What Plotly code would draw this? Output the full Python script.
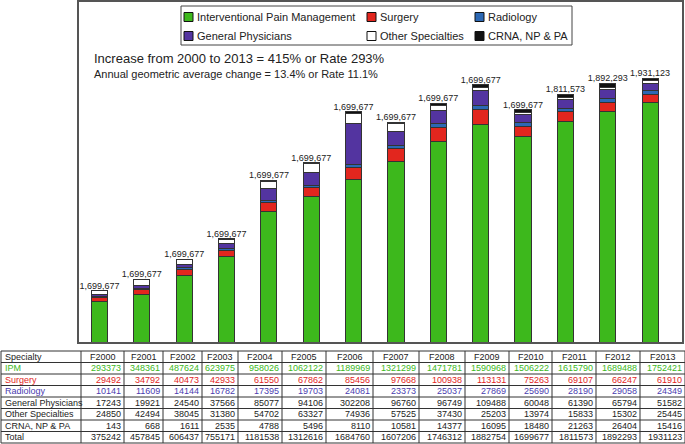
import plotly.graph_objects as go

years = ["F2000", "F2001", "F2002", "F2003", "F2004", "F2005", "F2006",
         "F2007", "F2008", "F2009", "F2010", "F2011", "F2012", "F2013"]
ipm = [293373, 348361, 487624, 623975, 958026, 1062122, 1189969,
       1321299, 1471781, 1590968, 1506222, 1615790, 1689488, 1752421]
surgery = [29492, 34792, 40473, 42933, 61550, 67862, 85456,
           97668, 100938, 113131, 75263, 69107, 66247, 61910]
radiology = [10141, 11609, 14144, 16782, 17395, 19703, 24081,
             23373, 25037, 27869, 25690, 28190, 29058, 24349]
general = [17243, 19921, 24540, 37566, 85077, 94106, 302208,
           96760, 96749, 109488, 60048, 61390, 65794, 51582]
other = [24850, 42494, 38045, 31380, 54702, 63327, 74936,
         57525, 37430, 25203, 13974, 15833, 15302, 25445]
crna = [143, 668, 1611, 2535, 4788, 5496, 8110,
        10581, 14377, 16095, 18480, 21263, 26404, 15416]
total = [375242, 457845, 606437, 755171, 1181538, 1312616, 1684760,
         1607206, 1746312, 1882754, 1699677, 1811573, 1892293, 1931123]
bar_labels = ["1,699,677"] * 11 + ["1,811,573", "1,892,293", "1,931,123"]

series_names = ["Interventional Pain Management", "Surgery", "Radiology",
                "General Physicians", "Other Specialties", "CRNA, NP & PA"]
table_names = ["IPM", "Surgery", "Radiology", "General Physicians",
               "Other Specialties", "CRNA, NP & PA", "Total"]
series_values = [ipm, surgery, radiology, general, other, crna]
colors = ["#3db81c", "#e2261e", "#2c68b4", "#5334a0", "#ffffff", "#111111"]
text_colors = ["#3db81c", "#e2261e", "#4a3caf", "#222222", "#222222", "#222222", "#222222"]

FONT = "Liberation Sans, Arial, Helvetica, sans-serif"
W, H = 685, 444

fig = go.Figure()
for name, vals, col in zip(series_names, series_values, colors):
    fig.add_trace(go.Bar(
        x=years, y=vals, name=name, marker=dict(color=col, line=dict(color="#333333", width=1)),
        width=0.38, showlegend=False, hoverinfo="y+name"))

fig.add_trace(go.Scatter(
    x=years, y=total, mode="text", text=bar_labels, textposition="top center",
    textfont=dict(family=FONT, size=9, color="#222222"), showlegend=False, hoverinfo="skip"))

shapes = []
annotations = []

# ---- table drawn with lines + text ----
col_widths = [80, 43, 39, 39, 36, 44, 44, 47, 46, 46, 44, 43, 44, 44, 45]
bounds = [1]
for w in col_widths:
    bounds.append(bounds[-1] + w)
t_top, row_h = 351, 11.5
rows = [ipm, surgery, radiology, general, other, crna, total]
n_rows = len(rows) + 1


def px(x):
    return x / W


def py(y):
    return 1 - y / H


for i in range(n_rows + 1):
    yy = min(t_top + row_h * i, H - 0.5)
    shapes.append(dict(type="line", xref="paper", yref="paper", x0=px(bounds[0]), x1=px(bounds[-1]),
                       y0=py(yy), y1=py(yy), line=dict(color="#333333", width=1)))
for b in bounds:
    shapes.append(dict(type="line", xref="paper", yref="paper", x0=px(b), x1=px(b),
                       y0=py(t_top), y1=py(min(t_top + row_h * n_rows, H - 0.5)),
                       line=dict(color="#333333", width=1)))

header = ["Specialty"] + years
for j, h in enumerate(header):
    yc = t_top + row_h * 0.5
    if j == 0:
        annotations.append(dict(xref="paper", yref="paper", x=px(bounds[0] + 2), y=py(yc), text=h,
                                showarrow=False, xanchor="left", yanchor="middle",
                                font=dict(family=FONT, size=9, color="#222222")))
    else:
        annotations.append(dict(xref="paper", yref="paper", x=px((bounds[j] + bounds[j + 1]) / 2), y=py(yc),
                                text=h, showarrow=False, xanchor="center", yanchor="middle",
                                font=dict(family=FONT, size=9, color="#222222")))
for r, (nm, vals, tc) in enumerate(zip(table_names, rows, text_colors)):
    yc = t_top + row_h * (r + 1.5)
    annotations.append(dict(xref="paper", yref="paper", x=px(bounds[0] + 2), y=py(yc), text=nm,
                            showarrow=False, xanchor="left", yanchor="middle",
                            font=dict(family=FONT, size=9, color=tc)))
    for j, v in enumerate(vals):
        annotations.append(dict(xref="paper", yref="paper", x=px(bounds[j + 2] - 1), y=py(yc), text=str(v),
                                showarrow=False, xanchor="right", yanchor="middle",
                                font=dict(family=FONT, size=9, color=tc)))

# ---- legend (drawn) ----
shapes.append(dict(type="rect", xref="paper", yref="paper",
                   x0=px(181), x1=px(572), y0=py(45), y1=py(6),
                   line=dict(color="#444444", width=1), fillcolor="rgba(0,0,0,0)"))
col_x = [184, 367, 475]
row_y = [17, 36]
for k, (name, col) in enumerate(zip(series_names, colors)):
    cx = col_x[k % 3]
    cy = row_y[k // 3]
    shapes.append(dict(type="rect", xref="paper", yref="paper",
                       x0=px(cx), x1=px(cx + 9), y0=py(cy + 4.5), y1=py(cy - 4.5),
                       line=dict(color="#111111", width=1), fillcolor=col))
    annotations.append(dict(xref="paper", yref="paper", x=px(cx + 11), y=py(cy),
                            text=name, showarrow=False, xanchor="left", yanchor="middle",
                            font=dict(family=FONT, size=11, color="#222222")))

annotations.append(dict(xref="paper", yref="paper", x=px(92), y=py(58),
                        text="Increase from 2000 to 2013 = 415% or Rate 293%", showarrow=False,
                        xanchor="left", yanchor="middle", font=dict(family=FONT, size=13, color="#222222")))
annotations.append(dict(xref="paper", yref="paper", x=px(92), y=py(74),
                        text="Annual geometric average change = 13.4% or Rate 11.1%", showarrow=False,
                        xanchor="left", yanchor="middle", font=dict(family=FONT, size=11, color="#222222")))

fig.update_layout(
    width=W, height=H, barmode="stack",
    margin=dict(l=0, r=0, t=0, b=0),
    paper_bgcolor="white", plot_bgcolor="white",
    font=dict(family=FONT, color="#222222"),
    shapes=shapes, annotations=annotations,
    xaxis=dict(domain=[79 / W, 682 / W], range=[-0.484, 13.754], showticklabels=False,
               ticks="", showgrid=False, zeroline=False, showline=True, mirror=True,
               linecolor="#555555", linewidth=1.5),
    yaxis=dict(domain=[1 - 342 / H, 1 - 2 / H], range=[0, 2.49e6], showticklabels=False,
               ticks="", showgrid=False, zeroline=False, showline=True, mirror=True,
               linecolor="#555555", linewidth=1.5),
)

fig.write_html("out.html", config={"displayModeBar": False},
               post_script="document.body.style.margin='0';document.body.style.padding='0';")
